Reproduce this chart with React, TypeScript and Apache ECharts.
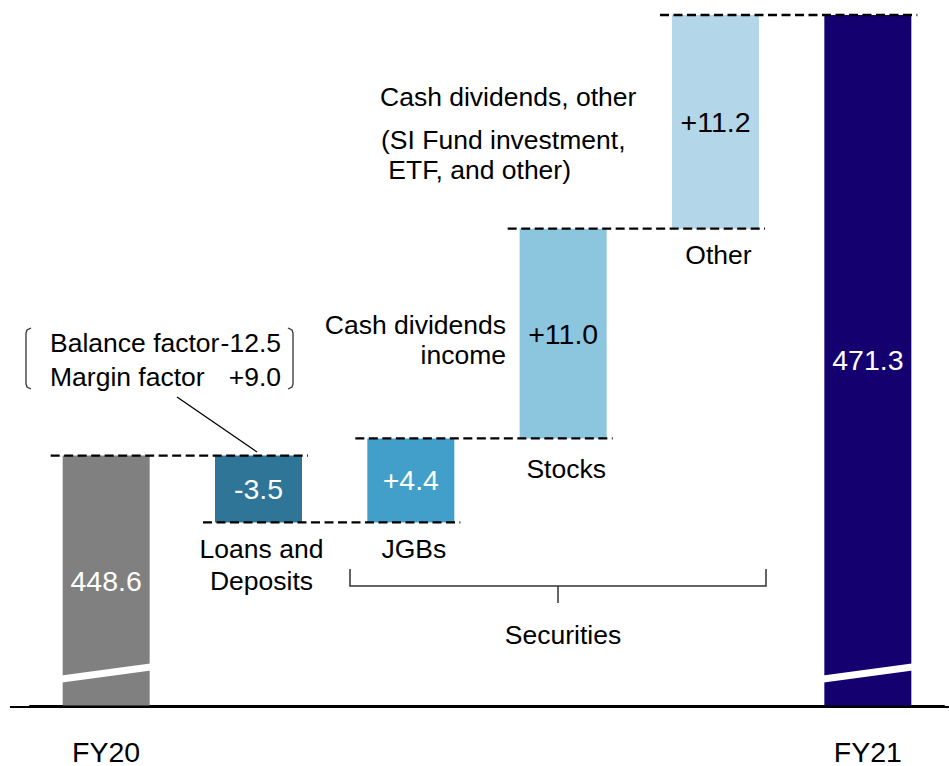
import React, { useEffect, useRef } from "react";
import * as echarts from "echarts";

// ---- data ----
const categories = ["FY20", "Loans and Deposits", "JGBs", "Stocks", "Other", "FY21"];
const xTickLabels = ["FY20", "", "", "", "", "FY21"];
const underBarLabels = ["", "Loans and\nDeposits", "JGBs", "Stocks", "Other", ""];
const startTotal = 448.6;
const endTotal = 471.3;
const deltas = [-3.5, 4.4, 11.0, 11.2];
const valueLabels = ["448.6", "-3.5", "+4.4", "+11.0", "+11.2", "471.3"];
const barColors = ["#808080", "#2e7598", "#419fca", "#8cc5de", "#b3d6e8", "#14006f"];
const labelColors = ["#ffffff", "#ffffff", "#ffffff", "#000000", "#000000", "#ffffff"];
const axisMin = 435.5; // broken axis start
const breakValue = 437.2; // where the axis-break mark is drawn on total bars

const FONT = "'Liberation Sans', Arial, Helvetica, sans-serif";
const BAR_W = 87;

function buildOption() {
  // running levels of the waterfall
  const levels: number[] = [startTotal];
  deltas.forEach((d) => levels.push(+(levels[levels.length - 1] + d).toFixed(2)));
  const finalLevel = levels[levels.length - 1];

  const baseData: (number | string)[] = ["-"];
  const visData: number[] = [startTotal];
  deltas.forEach((d, i) => {
    baseData.push(Math.min(levels[i], levels[i + 1]));
    visData.push(Math.abs(d));
  });
  baseData.push("-");
  visData.push(finalLevel); // total bar drawn up to the end of the waterfall (label shows endTotal)
  void endTotal;

  const underDistance = [11, 11, 11, 15, 10, 11];

  const connectorData = levels.map((l, i) => [i, l]);
  const breakData = [
    [0, breakValue],
    [categories.length - 1, breakValue],
  ];

  return {
    animation: false,
    backgroundColor: "#ffffff",
    textStyle: { fontFamily: FONT },
    grid: { left: 30, right: 5, top: 15, bottom: 59, containLabel: false },
    xAxis: {
      type: "category",
      data: categories,
      axisLine: { show: true, lineStyle: { color: "#000", width: 2 } },
      axisTick: { show: false },
      axisLabel: {
        interval: 0,
        margin: 32,
        fontSize: 28.5,
        lineHeight: 28,
        color: "#000",
        fontFamily: FONT,
        formatter: (_v: string, i: number) => xTickLabels[i],
      },
      splitLine: { show: false },
    },
    yAxis: {
      type: "value",
      min: axisMin,
      max: finalLevel,
      show: false,
      splitLine: { show: false },
    },
    series: [
      {
        name: "base",
        type: "bar",
        stack: "wf",
        barWidth: BAR_W,
        silent: true,
        itemStyle: { color: "transparent" },
        data: baseData.map((v, i) => ({
          value: v,
          label: { distance: underDistance[i] },
        })),
        label: {
          show: true,
          position: "insideTop",
          offset: [3, 0],
          fontSize: 26.5,
          lineHeight: 32,
          color: "#000",
          fontFamily: FONT,
          formatter: (p: any) => underBarLabels[p.dataIndex],
        },
      },
      {
        name: "value",
        type: "bar",
        stack: "wf",
        barWidth: BAR_W,
        silent: true,
        data: visData.map((v, i) => ({
          value: v,
          itemStyle: { color: barColors[i] },
          label: { color: labelColors[i] },
        })),
        label: {
          show: true,
          position: "inside",
          fontSize: 28.5,
          fontFamily: FONT,
          formatter: (p: any) => valueLabels[p.dataIndex],
        },
      },
      {
        name: "connectors",
        type: "custom",
        silent: true,
        clip: false,
        z: 5,
        encode: { x: 0, y: 1 },
        data: connectorData,
        renderItem: (_params: any, api: any) => {
          const i = api.value(0);
          const v = api.value(1);
          const p1 = api.coord([i, v]);
          const p2 = api.coord([i + 1, v]);
          return {
            type: "line",
            shape: {
              x1: p1[0] - BAR_W / 2 - 12,
              y1: p1[1],
              x2: p2[0] + BAR_W / 2 + 6,
              y2: p2[1],
            },
            style: { stroke: "#000", lineWidth: 2.3, lineDash: [9, 4.5] },
          };
        },
      },
      {
        name: "breaks",
        type: "custom",
        silent: true,
        clip: false,
        z: 6,
        encode: { x: 0, y: 1 },
        data: breakData,
        renderItem: (_params: any, api: any) => {
          const p = api.coord([api.value(0), api.value(1)]);
          return {
            type: "line",
            shape: {
              x1: p[0] - BAR_W / 2 - 1,
              y1: p[1] + 6,
              x2: p[0] + BAR_W / 2 + 1,
              y2: p[1] - 6,
            },
            style: { stroke: "#ffffff", lineWidth: 7 },
          };
        },
      },
    ],
    graphic: [
      // full-width baseline
      {
        type: "line",
        silent: true,
        z: 10,
        shape: { x1: 10, y1: 707, x2: 949, y2: 707 },
        style: { stroke: "#000", lineWidth: 2 },
      },
      // Cash dividends, other
      {
        type: "text",
        x: 380,
        y: 97,
        style: {
          text: "Cash dividends, other",
          fontSize: 26.5,
          fontFamily: FONT,
          fill: "#000",
          align: "left",
          verticalAlign: "middle",
        },
      },
      {
        type: "text",
        x: 381,
        y: 125,
        style: {
          text: "(SI Fund investment,\n ETF, and other)",
          fontSize: 26.5,
          lineHeight: 30,
          fontFamily: FONT,
          fill: "#000",
          align: "left",
          verticalAlign: "top",
        },
      },
      // Cash dividends income
      {
        type: "text",
        x: 506,
        y: 310,
        style: {
          text: "Cash dividends\nincome",
          fontSize: 26.5,
          lineHeight: 30,
          fontFamily: FONT,
          fill: "#000",
          align: "right",
          verticalAlign: "top",
        },
      },
      // bracketed box
      {
        type: "polyline",
        silent: true,
        shape: { points: [[31, 328], [27, 330], [26, 333], [26, 384], [27, 387], [31, 389]] },
        style: { stroke: "#333", lineWidth: 1.3, fill: null },
      },
      {
        type: "polyline",
        silent: true,
        shape: { points: [[288, 328], [292, 330], [293, 333], [293, 384], [292, 387], [288, 389]] },
        style: { stroke: "#333", lineWidth: 1.3, fill: null },
      },
      {
        type: "text",
        x: 50,
        y: 343,
        style: { text: "Balance factor", fontSize: 26.5, fontFamily: FONT, fill: "#000", align: "left", verticalAlign: "middle" },
      },
      {
        type: "text",
        x: 281,
        y: 343,
        style: { text: "-12.5", fontSize: 26.5, fontFamily: FONT, fill: "#000", align: "right", verticalAlign: "middle" },
      },
      {
        type: "text",
        x: 50,
        y: 377,
        style: { text: "Margin factor", fontSize: 26.5, fontFamily: FONT, fill: "#000", align: "left", verticalAlign: "middle" },
      },
      {
        type: "text",
        x: 281,
        y: 377,
        style: { text: "+9.0", fontSize: 26.5, fontFamily: FONT, fill: "#000", align: "right", verticalAlign: "middle" },
      },
      // leader line
      {
        type: "line",
        silent: true,
        shape: { x1: 177, y1: 397, x2: 257, y2: 452 },
        style: { stroke: "#000", lineWidth: 1.3 },
      },
      // securities bracket
      {
        type: "polyline",
        silent: true,
        shape: { points: [[350, 569], [350, 586], [766, 586], [766, 569]] },
        style: { stroke: "#333", lineWidth: 1.5, fill: null },
      },
      {
        type: "line",
        silent: true,
        shape: { x1: 558, y1: 586, x2: 558, y2: 603 },
        style: { stroke: "#333", lineWidth: 1.5 },
      },
      {
        type: "text",
        x: 563,
        y: 635,
        style: { text: "Securities", fontSize: 26.5, fontFamily: FONT, fill: "#000", align: "center", verticalAlign: "middle" },
      },
    ],
  };
}

export default function App() {
  const ref = useRef<HTMLDivElement>(null);
  useEffect(() => {
    if (!ref.current) return;
    const chart = echarts.init(ref.current, null, { renderer: "svg" });
    chart.setOption(buildOption() as any);
    return () => chart.dispose();
  }, []);
  return (
    <div
      ref={ref}
      style={{ position: "fixed", left: 0, top: 0, width: 949, height: 766, background: "#fff" }}
    />
  );
}
